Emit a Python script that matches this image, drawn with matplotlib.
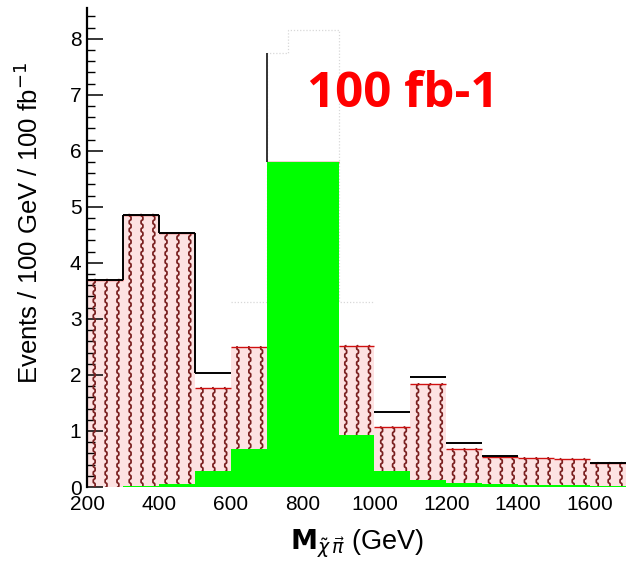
import numpy as np
import matplotlib
matplotlib.use("Agg")
import matplotlib.pyplot as plt
from matplotlib.ticker import MultipleLocator

plt.rcParams["font.family"] = ["Liberation Sans", "DejaVu Sans"]

# bin edges (GeV) and per-bin contents
edges = np.arange(200, 1701, 100)
signal = [0.0, 0.02, 0.05, 0.28, 0.68, 5.8, 5.8, 0.93, 0.29, 0.12, 0.08, 0.05, 0.04, 0.03, 0.02]
stacked = [3.7, 4.86, 4.53, 1.77, 2.5, 5.8, 5.8, 2.52, 1.07, 1.84, 0.68, 0.53, 0.52, 0.50, 0.43]
total = [3.7, 4.86, 4.53, 2.03, np.nan, 7.75, np.nan, np.nan, 1.34, 1.96, 0.78, 0.56, np.nan, np.nan, 0.43]
# faint outline left in the original around the peak
faint_edges = [600, 700, 760, 900, 1000]
faint_vals = [3.3, 7.75, 8.15, 3.3]

xticks = [200, 400, 600, 800, 1000, 1200, 1400, 1600]
yticks = list(range(0, 9))

GREEN, PINK, HATCH, RED = "#00ff00", "#fde2e2", "#7a2020", "#d01010"

fig = plt.figure(figsize=(6.26, 5.64), dpi=100)
ax = fig.add_axes([0.139, 0.1365, 0.861, 0.8495])
ax.set_xlim(200, 1700)
ax.set_ylim(0, 8.55)

lo, hi = edges[:-1], edges[1:]
w = np.diff(edges)

# hatched background stacked on the signal
ax.bar(lo, np.array(stacked) - np.array(signal), width=w, bottom=signal,
       align="edge", color=PINK, edgecolor="none", zorder=1)
# wavy vertical "hatch" chains
for x0, ww, b, t in zip(lo, w, signal, stacked):
    if t - b <= 0.02:
        continue
    yy = np.linspace(b, t, max(int((t - b) * 250), 4))
    for f in (0.2, 0.53, 0.86):
        xx = x0 + f * ww + 2.6 * np.tanh(3.0 * np.sin(2 * np.pi * yy / 0.14))
        ax.plot(xx, yy, color=HATCH, lw=1.25, zorder=2)
ax.hlines(stacked, lo, hi, color=RED, lw=1.0, zorder=3)

# signal
ax.bar(lo, signal, width=w, align="edge", color=GREEN, edgecolor="none", zorder=4)

# total outline (only where it is visible in the original)
top_shown = [v if i != 5 else np.nan for i, v in enumerate(total)]
ax.hlines(top_shown, lo, hi, color="black", lw=1.4, zorder=5)
for i in range(3):
    ax.vlines(hi[i], min(total[i], total[i + 1]), max(total[i], total[i + 1]),
              color="black", lw=1.4, zorder=5)
ax.vlines(lo[5], signal[5], total[5], color="#333333", lw=1.4, zorder=5)

ax.stairs(faint_vals, faint_edges, baseline=None, color="#d8d8d8", lw=0.9,
          ls=(0, (1, 1.5)), zorder=0)

ax.text(1078, 7.0, "100 fb-1", color="#ff0000", fontsize=35.5, fontweight="bold",
        family=["Open Sans", "DejaVu Sans"], ha="center", va="center", zorder=6)

for s in ("top", "right", "bottom"):
    ax.spines[s].set_visible(False)
ax.spines["left"].set_linewidth(1.6)

ax.set_xticks(xticks)
ax.set_yticks(yticks)
ax.yaxis.set_minor_locator(MultipleLocator(0.2))
ax.tick_params(axis="x", length=0, pad=6, labelsize=15)
ax.tick_params(axis="y", which="major", direction="in", length=11.5, width=1.1,
               pad=4, labelsize=15)
ax.tick_params(axis="y", which="minor", direction="in", length=6, width=1.0)

ax.set_xlabel(r"$\mathbf{M}_{\tilde{\chi}\,\vec{\pi}}$ (GeV)", fontsize=19.5)
ax.set_ylabel("Events / 100 GeV / 100 fb$^{-1}$", fontsize=18.5)
ax.yaxis.set_label_coords(-0.082, 0.55)
ax.xaxis.set_label_coords(0.5, -0.085)

fig.savefig("out.png", dpi=100)
